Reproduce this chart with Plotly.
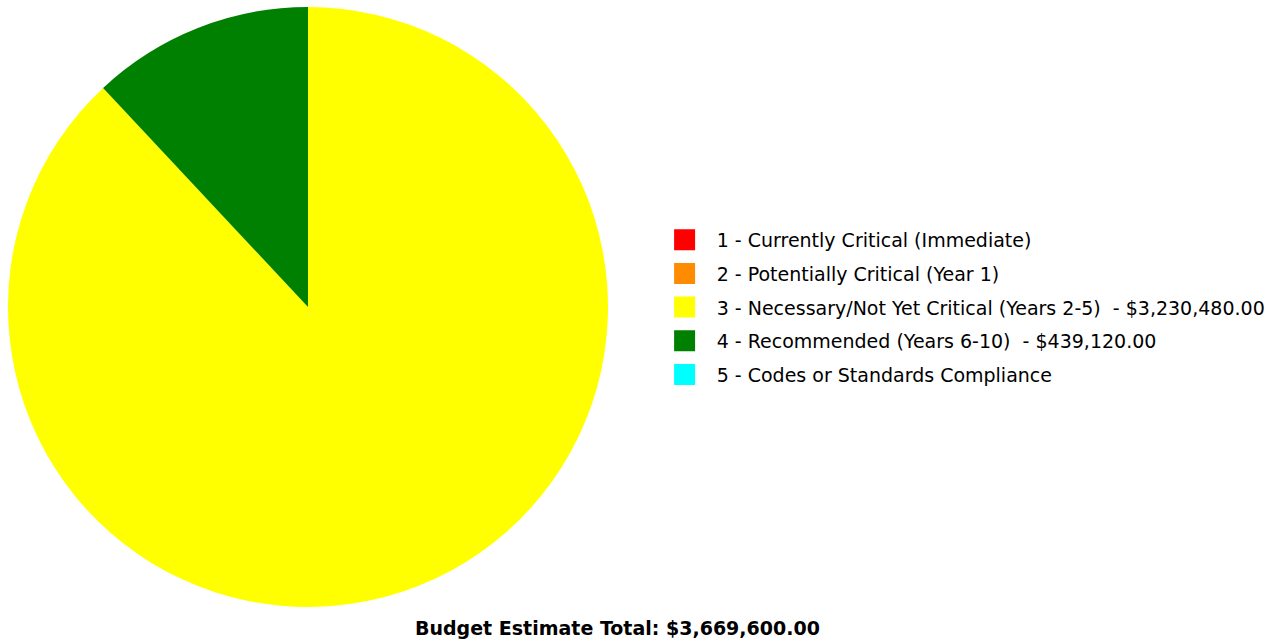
import plotly.graph_objects as go

categories = [
    "1 - Currently Critical (Immediate)",
    "2 - Potentially Critical (Year 1)",
    "3 - Necessary/Not Yet Critical (Years 2-5)",
    "4 - Recommended (Years 6-10)",
    "5 - Codes or Standards Compliance",
]
values = [0, 0, 3230480.00, 439120.00, 0]
colors = ["#FF0000", "#FF8C00", "#FFFF00", "#008000", "#00FFFF"]
total = sum(values)

FONT = "Tahoma, 'DejaVu Sans', sans-serif"

def legend_label(cat, val):
    lead = "\u00a0\u00a0"
    if val > 0:
        return f"{lead}{cat}\u00a0\u00a0- ${val:,.2f}"
    return lead + cat

fig = go.Figure()
fig.add_trace(go.Pie(
    labels=categories,
    values=values,
    marker=dict(colors=colors, line=dict(width=0)),
    sort=False,
    direction="clockwise",
    rotation=0,
    textinfo="none",
    hoverinfo="label+value",
    showlegend=False,
    domain=dict(x=[8/1284, 608/1284], y=[1-607/643, 1-7/643]),
))

for i, (cat, val, col) in enumerate(zip(categories, values, colors)):
    fig.add_trace(go.Scatter(
        x=[None], y=[None], mode="markers",
        marker=dict(symbol="square", size=16, color=col,
                    line=dict(color=col, width=5)),
        name=legend_label(cat, val),
        legendgroup=f"g{i}",
        showlegend=True,
    ))

fig.update_layout(
    width=1284, height=643,
    margin=dict(l=0, r=0, t=0, b=0),
    paper_bgcolor="white", plot_bgcolor="white",
    font=dict(family=FONT, size=19, color="#000000"),
    xaxis=dict(visible=False), yaxis=dict(visible=False),
    legend=dict(
        x=0.5176, y=0.522, xanchor="left", yanchor="middle",
        tracegroupgap=6, itemsizing="trace",
        font=dict(family=FONT, size=19, color="#000000"),
        bgcolor="rgba(0,0,0,0)",
    ),
    annotations=[dict(
        text=f"<b>Budget Estimate Total: ${total:,.2f}</b>",
        x=617/1284, y=1-628/643, xref="paper", yref="paper",
        xanchor="center", yanchor="middle", showarrow=False,
        font=dict(family=FONT, size=19, color="#000000"),
    )],
)

fig.write_html("out.html")
